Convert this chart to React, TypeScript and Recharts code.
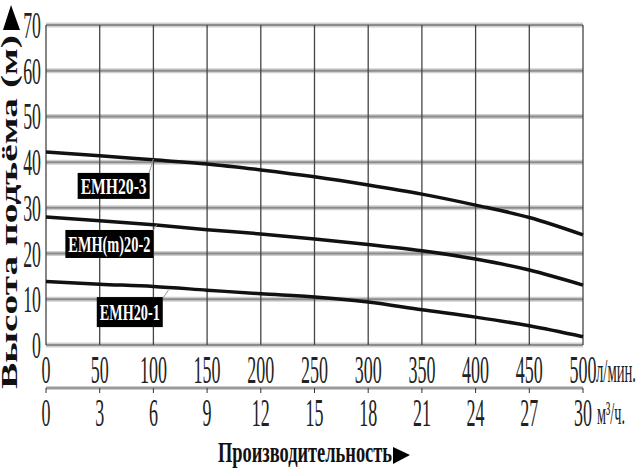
import React from "react";
import { CartesianGrid, Line, LineChart, ReferenceDot, ReferenceLine, XAxis, YAxis } from "recharts";

// flow in l/min (and the same points in m3/h), head in metres
const flow = [0, 50, 100, 150, 200, 250, 300, 350, 400, 450, 500];
const flowM3 = [0, 3, 6, 9, 12, 15, 18, 21, 24, 27, 30];
const emh203 = [42.2, 41.4, 40.5, 39.6, 38.3, 36.8, 35.0, 33.0, 30.6, 27.9, 24.1];
const emh202 = [28.0, 27.2, 26.3, 25.2, 24.3, 23.2, 22.0, 20.6, 18.8, 16.4, 13.1];
const emh201 = [13.9, 13.3, 12.8, 12.0, 11.2, 10.5, 9.4, 7.7, 6.1, 4.2, 1.8];

const flowTicks = [0, 50, 100, 150, 200, 250, 300, 350, 400, 450, 500];
const cubicTicks = [0, 3, 6, 9, 12, 15, 18, 21, 24, 27, 30];
const headTicks = [0, 10, 20, 30, 40, 50, 60, 70];

const data = flow.map((q, i) => ({ q, m3: flowM3[i], emh203: emh203[i], emh202: emh202[i], emh201: emh201[i] }));

const tags = [
  { name: "EMH20-3", q: 63, h: 34.8, w: 72, hh: 26, from: { x: 96, y: 37.6 }, to: { x: 100, y: 40.7 } },
  { name: "EMH(m)20-2", q: 59, h: 22.1, w: 88, hh: 28, from: { x: 99, y: 24.7 }, to: { x: 103, y: 26.3 } },
  { name: "EMH20-1", q: 78, h: 7.2, w: 66, hh: 30, from: { x: 109, y: 10.3 }, to: { x: 114, y: 12.0 } },
];

const SERIF = "'Liberation Serif', 'DejaVu Serif', serif";

function Squish({ x, y, sx, size, anchor = "middle", weight = "normal", fill = "#222", children }: any) {
  return (
    <text
      transform={`translate(${x},${y}) scale(${sx},1)`}
      textAnchor={anchor}
      fontSize={size}
      fontFamily={SERIF}
      fontWeight={weight}
      fill={fill}
    >
      {children}
    </text>
  );
}

function FlowTick(p: any) {
  return <Squish x={p.x} y={345 + 38} sx={0.45} size={40}>{p.payload.value}</Squish>;
}

function CubicTick(p: any) {
  return <Squish x={p.x} y={388 + 38} sx={0.45} size={40}>{p.payload.value}</Squish>;
}

function HeadTick(p: any) {
  return <Squish x={41} y={p.y + 13} sx={0.48} size={37} anchor="end">{p.payload.value}</Squish>;
}

function Tag({ cx, cy, name, w, hh }: any) {
  return (
    <g>
      <rect x={cx - w / 2} y={cy - hh / 2} width={w} height={hh} fill="#000" />
      <text
        x={cx}
        y={cy + 8}
        textAnchor="middle"
        fontSize={24}
        fontFamily={SERIF}
        fontWeight="bold"
        fill="#fff"
        textLength={w - 6}
        lengthAdjust="spacingAndGlyphs"
      >
        {name}
      </text>
    </g>
  );
}

export default function App() {
  return (
    <div style={{ position: "absolute", left: 0, top: 0, width: 640, height: 475, background: "#fff" }}>
      <LineChart width={640} height={475} data={data} margin={{ top: 25, right: 57, left: 0, bottom: 0 }}>
        <CartesianGrid vertical={false} stroke="#cfcfcf" strokeWidth={5} />
        <CartesianGrid vertical={false} stroke="#8c8c8c" strokeWidth={2} />
        <CartesianGrid horizontal={false} stroke="#444" strokeWidth={1.3} />
        <XAxis
          dataKey="q"
          type="number"
          domain={[0, 500]}
          ticks={flowTicks}
          height={43}
          axisLine={false}
          tickLine={false}
          tick={<FlowTick />}
          interval={0}
        />
        <XAxis
          xAxisId="m3"
          dataKey="m3"
          type="number"
          domain={[0, 30]}
          ticks={cubicTicks}
          height={87}
          axisLine={{ stroke: "#9a9a9a", strokeWidth: 3 }}
          tickLine={{ stroke: "#333", strokeWidth: 1 }}
          tickSize={5}
          tick={<CubicTick />}
          interval={0}
        />
        <YAxis
          type="number"
          domain={[0, 70]}
          ticks={headTicks}
          width={46}
          axisLine={false}
          tickLine={false}
          tick={<HeadTick />}
          interval={0}
        />
        <Line type="monotone" dataKey="emh203" stroke="#111" strokeWidth={3.5} dot={false} isAnimationActive={false} />
        <Line type="monotone" dataKey="emh202" stroke="#111" strokeWidth={3.5} dot={false} isAnimationActive={false} />
        <Line type="monotone" dataKey="emh201" stroke="#111" strokeWidth={3.5} dot={false} isAnimationActive={false} />
        <Line
          xAxisId="m3"
          dataKey="emh201"
          stroke="none"
          dot={false}
          activeDot={false}
          legendType="none"
          isAnimationActive={false}
        />
        {tags.map((t) => (
          <ReferenceLine key={t.name + "-lead"} segment={[t.from, t.to]} stroke="#999" strokeWidth={1} />
        ))}
        {tags.map((t) => (
          <ReferenceDot
            key={t.name}
            x={t.q}
            y={t.h}
            r={1}
            shape={(p: any) => <Tag cx={p.cx} cy={p.cy} name={t.name} w={t.w} hh={t.hh} />}
          />
        ))}
      </LineChart>
      <svg width={640} height={475} style={{ position: "absolute", left: 0, top: 0, pointerEvents: "none" }}>
        <polygon points="3,30 11,5 20,30" fill="#000" />
        <text
          transform="translate(17,212) rotate(-90)"
          textAnchor="middle"
          fontSize={23}
          fontFamily={SERIF}
          fontWeight="bold"
          fill="#111"
          textLength={354}
          lengthAdjust="spacingAndGlyphs"
        >
          Высота подъёма (м)
        </text>
        <text x={596} y={382} fontSize={34} fontFamily={SERIF} fill="#222" textLength={40} lengthAdjust="spacingAndGlyphs">
          л/мин.
        </text>
        <text x={597} y={424} fontSize={32} fontFamily={SERIF} fill="#222" textLength={28} lengthAdjust="spacingAndGlyphs">
          м³/ч.
        </text>
        <text x={218} y={462} fontSize={30} fontFamily={SERIF} fontWeight="bold" fill="#111" textLength={174} lengthAdjust="spacingAndGlyphs">
          Производительность
        </text>
        <polygon points="393,447 410,455 393,464" fill="#000" />
      </svg>
    </div>
  );
}
